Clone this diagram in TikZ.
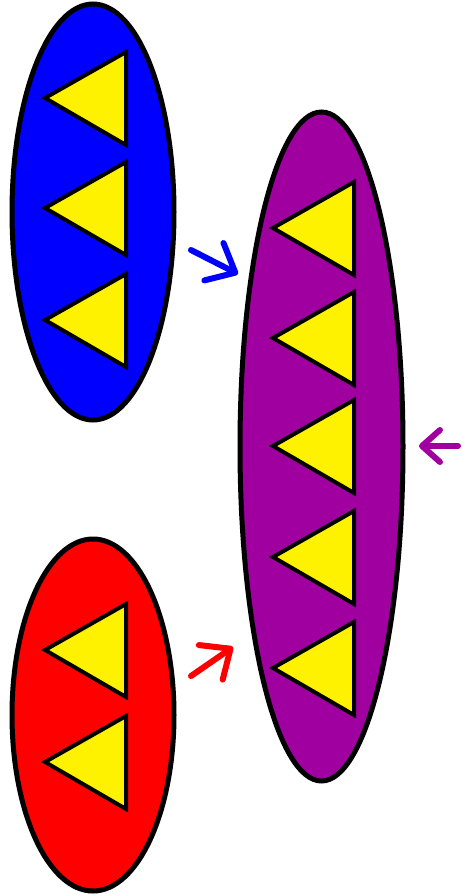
\documentclass[tikz,border=0pt]{standalone}
\usepackage{tikz}
\usetikzlibrary{arrows.meta,shapes.geometric}
\definecolor{bagpurple}{RGB}{160,0,160}
\tikzset{
  bag/.style={ellipse,draw,line width=5pt,inner sep=0pt},
  tri/.style={draw,fill=yellow,line width=4pt},
  feed/.style={line width=6pt,line cap=round,-{Straight Barb[length=24pt,width=42pt,round]}}
}

\begin{document}
\begin{tikzpicture}[x=1pt,y=-1pt]
  \useasboundingbox (0,0) rectangle (462,895);
  % the three bags
  \node[bag,fill=blue,minimum width=162pt,minimum height=416pt] (bluebag) at (93,212) {};
  \node[bag,fill=red,minimum width=162pt,minimum height=352pt] (redbag) at (93,715) {};
  \node[bag,fill=bagpurple,minimum width=163pt,minimum height=669pt] (purplebag) at (321.5,446.5) {};
  % triangles
  \foreach \c in {98,208,320}
    \draw[tri] (45,\c) -- (126,\c-46) -- (126,\c+47) -- cycle;
  \foreach \c in {650,762}
    \draw[tri] (45,\c) -- (126,\c-46) -- (126,\c+47) -- cycle;
  \foreach \c in {228,338,446,557,668}
    \draw[tri] (273,\c) -- (354,\c-46) -- (354,\c+47) -- cycle;
  % arrows
  \coordinate (bluefrom) at (191,250);
  \coordinate (blueto) at (238,274);
  \coordinate (redfrom) at (191,676);
  \coordinate (redto) at (233,647);
  \coordinate (purplefrom) at (458,446);
  \coordinate (purpleto) at (419,446);
  \draw[feed,blue] (bluefrom) -- (blueto);
  \draw[feed,red] (redfrom) -- (redto);
  \draw[feed,bagpurple,-{Straight Barb[length=18pt,width=32pt,round]}] (purplefrom) -- (purpleto);
\end{tikzpicture}
\end{document}
